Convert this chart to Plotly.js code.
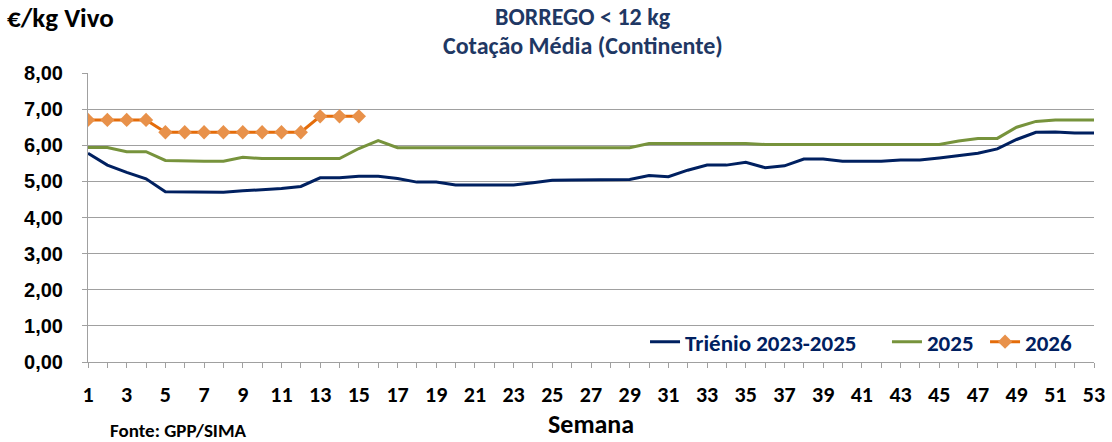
<!DOCTYPE html>
<html>
<head>
<meta charset="utf-8">
<script src="https://cdn.plot.ly/plotly-3.0.1.min.js"></script>
<style>html,body{margin:0;padding:0;background:#fff;}#chart{width:1112px;height:442px;}</style>
</head>
<body>
<div id="chart"></div>
<script>
const weeks = [1,2,3,4,5,6,7,8,9,10,11,12,13,14,15,16,17,18,19,20,21,22,23,24,25,26,27,28,29,30,31,32,33,34,35,36,37,38,39,40,41,42,43,44,45,46,47,48,49,50,51,52,53];
const weekLabels = ["1","","3","","5","","7","","9","","11","","13","","15","","17","","19","","21","","23","","25","","27","","29","","31","","33","","35","","37","","39","","41","","43","","45","","47","","49","","51","","53"];
const weeks2026 = [1,2,3,4,5,6,7,8,9,10,11,12,13,14,15];
const trienio = [5.78,5.45,5.25,5.07,4.71,4.70,4.70,4.70,4.74,4.77,4.80,4.86,5.10,5.10,5.14,5.14,5.08,4.98,4.98,4.90,4.90,4.90,4.90,4.96,5.03,5.04,5.05,5.05,5.05,5.16,5.13,5.31,5.45,5.45,5.53,5.38,5.43,5.62,5.62,5.56,5.56,5.56,5.59,5.59,5.65,5.72,5.78,5.90,6.16,6.36,6.37,6.34,6.34];
const y2025 = [5.94,5.94,5.82,5.82,5.58,5.56,5.56,5.56,5.67,5.63,5.63,5.63,5.63,5.63,5.91,6.13,5.93,5.93,5.93,5.93,5.93,5.93,5.93,5.93,5.93,5.93,5.93,5.93,5.93,6.05,6.05,6.05,6.05,6.05,6.05,6.02,6.02,6.02,6.02,6.02,6.02,6.02,6.02,6.02,6.02,6.12,6.19,6.19,6.50,6.66,6.70,6.70,6.70];
const y2026 = [6.70,6.70,6.70,6.70,6.36,6.36,6.36,6.36,6.36,6.36,6.36,6.36,6.80,6.80,6.80];
const yTicks = [0,1,2,3,4,5,6,7,8];
const yTickLabels = ["0,00","1,00","2,00","3,00","4,00","5,00","6,00","7,00","8,00"];

const FONT = "Carlito, Lato, sans-serif";
const ARIAL = "Arial, Liberation Sans, sans-serif";
const NAVY = "#1F3864";

const traces = [
  {x: weeks, y: trienio, name: "Triénio 2023-2025", type: "scatter", mode: "lines", legend: "legend",
   line: {color: "#002060", width: 3}},
  {x: weeks, y: y2025, name: "2025", type: "scatter", mode: "lines", legend: "legend2",
   line: {color: "#77933C", width: 3}},
  {x: weeks2026, y: y2026, name: "2026", type: "scatter", mode: "lines+markers", legend: "legend3",
   line: {color: "#E46C0A", width: 3},
   marker: {symbol: "diamond", size: 11, color: "#E8914A"}}
];

const legFont = {family: FONT, size: 23, color: "#002060", weight: "bold"};
function leg(x) {
  return {orientation: "h", x: x, xanchor: "left", y: 0.07, yanchor: "middle",
          font: legFont, bgcolor: "rgba(0,0,0,0)", itemwidth: 30};
}

const layout = {
  width: 1112, height: 442,
  margin: {l: 88, r: 18, t: 73, b: 80},
  paper_bgcolor: "#fff", plot_bgcolor: "#fff",
  font: {family: FONT, color: "#000", size: 17, weight: "bold"},
  showlegend: true,
  hovermode: false,
  legend: leg(0.5537),
  legend2: leg(0.7942),
  legend3: leg(0.8917),
  xaxis: {range: [1, 53], tickmode: "array", tickvals: weeks, ticktext: weekLabels, ticks: "outside", ticklen: 5,
          tickcolor: "#A0A0A0", showgrid: false, zeroline: false, showline: true, linecolor: "#A0A0A0",
          linewidth: 1, ticklabelstandoff: 8,
          tickfont: {family: FONT, size: 22, color: "#000", weight: "bold"}},
  yaxis: {range: [0, 8], tickmode: "array", tickvals: yTicks, ticktext: yTickLabels, ticks: "outside", ticklen: 5,
          tickcolor: "#A0A0A0", showgrid: true, gridcolor: "#A0A0A0", gridwidth: 1, zeroline: false,
          showline: true, linecolor: "#A0A0A0", ticklabelstandoff: 15,
          tickfont: {family: ARIAL, size: 20, color: "#000", weight: "bold"}},
  annotations: [
    {text: "BORREGO < 12 kg", xref: "paper", yref: "paper", x: 0.4925, xanchor: "center", y: (362-17)/289, yanchor: "middle",
     showarrow: false, font: {family: FONT, size: 24, weight: "bold", color: NAVY}},
    {text: "Cotação Média (Continente)", xref: "paper", yref: "paper", x: 0.4925, xanchor: "center", y: (362-45)/289, yanchor: "middle",
     showarrow: false, font: {family: FONT, size: 24, weight: "bold", color: NAVY}},
    {text: "€/kg Vivo", xref: "paper", yref: "paper", x: -0.083, xanchor: "left", y: (362-18)/289, yanchor: "middle",
     showarrow: false, font: {family: FONT, size: 27, weight: "bold", color: "#000"}},
    {text: "Semana", xref: "paper", yref: "paper", x: 0.5, xanchor: "center", y: (362-424)/289, yanchor: "middle",
     showarrow: false, font: {family: FONT, size: 26, weight: "bold", color: "#000"}},
    {text: "Fonte: GPP/SIMA", xref: "paper", yref: "paper", x: 0.0195, xanchor: "left", y: (362-431)/289, yanchor: "middle",
     showarrow: false, font: {family: FONT, size: 19, weight: "bold", color: "#000"}}
  ]
};

Plotly.newPlot("chart", traces, layout, {displayModeBar: false, staticPlot: true});
</script>
</body>
</html>
